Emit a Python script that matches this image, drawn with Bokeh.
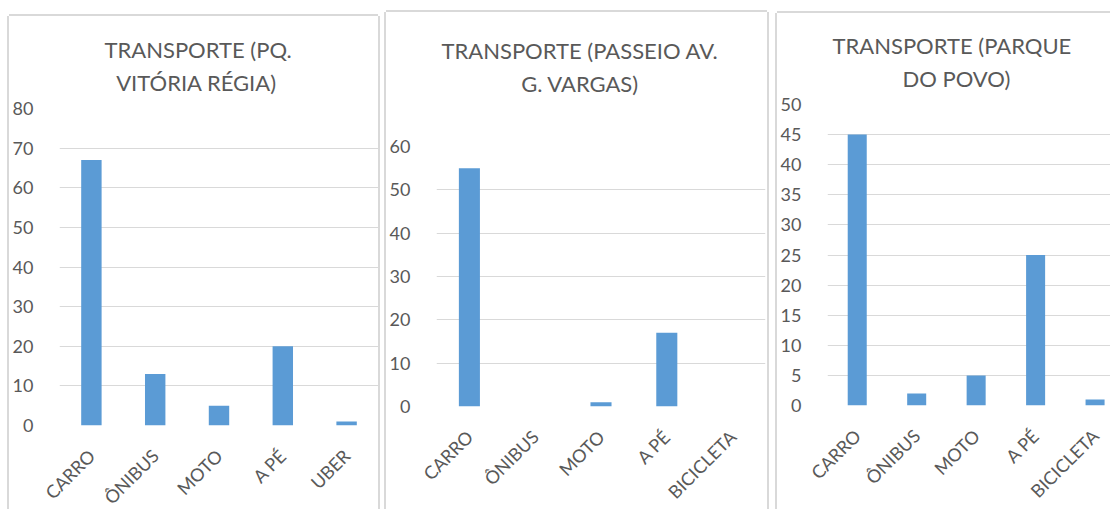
import math
from bokeh.plotting import figure
from bokeh.models import Range1d, FixedTicker, ColumnDataSource, Title, Row
from bokeh.layouts import column
from bokeh.embed import file_html
from bokeh.resources import INLINE

# ---- data ----
categories_1 = ["CARRO", "ÔNIBUS", "MOTO", "A PÉ", "UBER"]
values_1 = [67, 13, 5, 20, 1]
title_1 = ["TRANSPORTE (PQ.", "VITÓRIA RÉGIA)"]
yticks_1 = [0, 10, 20, 30, 40, 50, 60, 70, 80]

categories_2 = ["CARRO", "ÔNIBUS", "MOTO", "A PÉ", "BICICLETA"]
values_2 = [55, 0, 1, 17, 0]
title_2 = ["TRANSPORTE (PASSEIO AV.", "G. VARGAS)"]
yticks_2 = [0, 10, 20, 30, 40, 50, 60]

categories_3 = ["CARRO", "ÔNIBUS", "MOTO", "A PÉ", "BICICLETA"]
values_3 = [45, 2, 5, 25, 1]
title_3 = ["TRANSPORTE  (PARQUE", "DO POVO)"]
yticks_3 = [0, 5, 10, 15, 20, 25, 30, 35, 40, 45, 50]

# ---- style ----
FONT = "Lato"
GRAY = "#595959"
BAR = "#5b9bd5"
GRID = "#d9d9d9"
EDGE = "#d9d9d9"


def make_panel(cats, vals, yticks, titles, W, H, shift, borders, x_span,
               title_offsets, spacer_standoff, right_edge=True):
    bl, br, bt, bb = borders
    shadow = [f"-2px 0 0 0 {EDGE}", f"0 -2px 0 0 {EDGE}"]
    if right_edge:
        shadow.append(f"2px 0 0 0 {EDGE}")
    styles = {"transform": f"translate({shift[0]}px, {shift[1]}px)",
              "box-shadow": ", ".join(shadow)}
    p = figure(width=W, height=H, title=None,
               x_range=Range1d(0.5, 0.5 + x_span), y_range=Range1d(yticks[0], yticks[-1]),
               output_backend="svg", toolbar_location=None,
               min_border_left=bl, min_border_right=br,
               min_border_top=bt, min_border_bottom=bb,
               background_fill_color="white", border_fill_color="white",
               outline_line_color=None, styles=styles)
    xs = list(range(1, len(cats) + 1))
    src = ColumnDataSource(dict(x=xs, v=vals))
    p.vbar(x="x", top="v", bottom=0, width=0.32, source=src,
           fill_color=BAR, line_color=None)

    p.yaxis.ticker = FixedTicker(ticks=yticks)
    p.ygrid.ticker = FixedTicker(ticks=yticks)
    p.ygrid.grid_line_color = GRID
    p.ygrid.grid_line_width = 1
    p.xgrid.grid_line_color = None

    for ax in (p.xaxis, p.yaxis):
        ax.axis_line_color = None
        ax.major_tick_line_color = None
        ax.minor_tick_line_color = None
        ax.major_label_text_font = FONT
        ax.major_label_text_font_size = "18px"
        ax.major_label_text_color = GRAY
    p.yaxis.major_label_standoff = 20
    p.xaxis.ticker = FixedTicker(ticks=xs)
    p.xaxis.major_label_overrides = {x: c for x, c in zip(xs, cats)}
    p.xaxis.major_label_orientation = math.pi / 4
    p.xaxis.major_label_standoff = 21

    # spacer between frame and title block
    p.add_layout(Title(text=" ", text_font_size="1px", standoff=spacer_standoff), "above")
    # two title lines (lower line added first)
    for text, off in ((titles[1], title_offsets[1]), (titles[0], title_offsets[0])):
        p.add_layout(Title(text=text, align="left", offset=off, standoff=4,
                           text_font=FONT, text_font_size="22px",
                           text_font_style="normal", text_color=GRAY), "above")
    return p


# layout x: 0, 369, 750 ; shifted visually to 9, 386, 777 (tops 16, 12, 13)
p1 = make_panel(categories_1, values_1, yticks_1, title_1, 369, 524, (9, 16),
                (46, 0, 92, 115), 5, (45, 56.7), 8)
p2 = make_panel(categories_2, values_2, yticks_2, title_2, 381, 528, (17, 12),
                (46, 2, 134, 134), 5, (5, 84.7), 45)
p3 = make_panel(categories_3, values_3, yticks_3, title_3, 333, 527, (27, 13),
                (46, 0, 91, 135), (1110 - 823) / 60.3, (5, 75), 8, right_edge=False)

layout = Row(children=[column(p1), column(p2), column(p3)],
             width=1110, height=509, styles={"overflow": "hidden"})

open("out.html", "w").write(file_html(layout, INLINE))
